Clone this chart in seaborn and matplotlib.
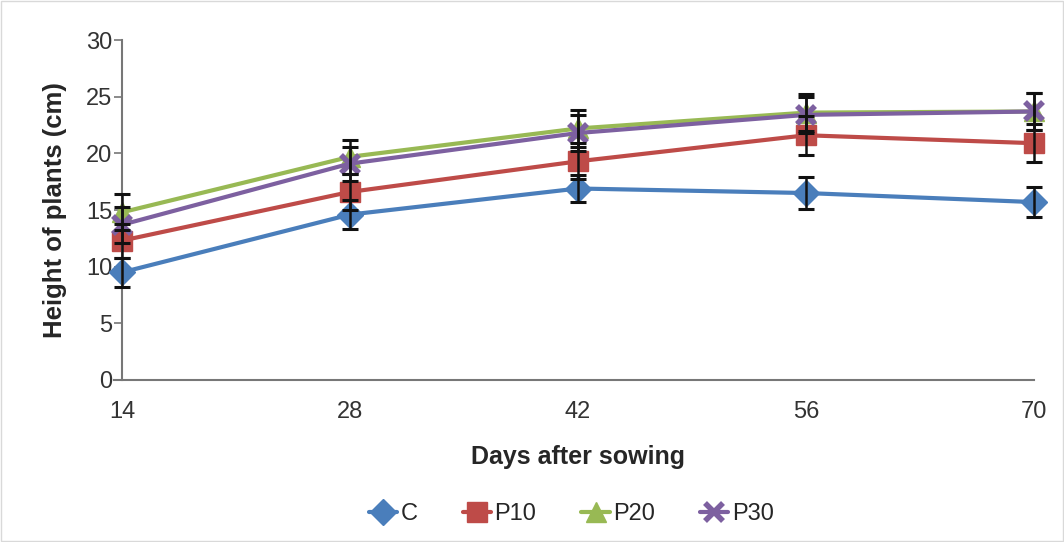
import numpy as np
import pandas as pd
import matplotlib
matplotlib.use("Agg")
import matplotlib.pyplot as plt
import seaborn as sns
from matplotlib.patches import Rectangle

# ── Data ───────────────────────────────────────────────────────────────────────
days = [14, 28, 42, 56, 70]
treatments = ["C", "P10", "P20", "P30"]

height_c   = [9.5, 14.6, 16.9, 16.5, 15.7]
height_p10 = [12.3, 16.6, 19.3, 21.6, 20.9]
height_p20 = [14.8, 19.7, 22.2, 23.6, 23.7]
height_p30 = [13.7, 19.1, 21.8, 23.4, 23.7]

err_c   = [1.3, 1.3, 1.2, 1.4, 1.3]
err_p10 = [1.5, 1.6, 1.6, 1.7, 1.7]
err_p20 = [1.6, 1.5, 1.6, 1.6, 1.6]
err_p30 = [1.6, 1.5, 1.6, 1.6, 1.6]

colors  = ["#4A7EBB", "#BE4B48", "#98B954", "#7D60A0"]
markers = ["D", "s", "^", "x"]
msizes  = [13, 14, 14, 13]

# ── Plot ───────────────────────────────────────────────────────────────────────
sns.set_style("white")
plt.rcParams["font.family"] = ["Liberation Sans", "DejaVu Sans"]

heights = [height_c, height_p10, height_p20, height_p30]
errs    = [err_c, err_p10, err_p20, err_p30]

df = pd.DataFrame({
    "day":    np.tile(days, len(treatments)),
    "height": np.concatenate(heights),
    "err":    np.concatenate(errs),
    "group":  np.repeat(treatments, len(days)),
})

fig = plt.figure(figsize=(10.64, 5.42), dpi=100)
ax = fig.add_axes([0.1147, 0.299, 0.8571, 0.627])

for grp, c, m, ms in zip(treatments, colors, markers, msizes):
    sub = df[df["group"] == grp]
    sns.lineplot(
        data=sub, x="day", y="height", color=c, marker=m, linewidth=3,
        markersize=ms, markeredgecolor=c,
        markeredgewidth=4 if m == "x" else 1, ax=ax, legend=False,
        clip_on=False,
    )

for grp in treatments:
    sub = df[df["group"] == grp]
    ax.errorbar(sub["day"], sub["height"], yerr=sub["err"], fmt="none",
                ecolor="#111111", elinewidth=1.8, capsize=5.5, capthick=2.2,
                zorder=5, clip_on=False)

ax.set_xlim(14, 70)
ax.set_ylim(0, 30)
ax.set_xticks(days)
ax.set_yticks(range(0, 31, 5))
ax.tick_params(axis="x", length=0, pad=15, labelsize=17, colors="#333333")
ax.tick_params(axis="y", length=6, width=1.2, color="#777777", direction="out",
               left=True, pad=1, labelsize=17, labelcolor="#333333")
for side in ["top", "right"]:
    ax.spines[side].set_visible(False)
for side in ["left", "bottom"]:
    ax.spines[side].set_color("#777777")
    ax.spines[side].set_linewidth(1.5)
ax.spines["bottom"].set_bounds(14 - 0.5, 70)

ax.set_xlabel("Days after sowing", fontsize=18, fontweight="bold", labelpad=16)
ax.set_ylabel("Height of plants (cm)", fontsize=18.5, fontweight="bold", labelpad=14)

# legend along the bottom
handles = [
    plt.Line2D([], [], color=c, marker=m, linewidth=3, markersize=ms,
               markeredgewidth=4 if m == "x" else 1, markeredgecolor=c)
    for c, m, ms in zip(colors, markers, msizes)
]
fig.legend(handles, treatments, loc="center", bbox_to_anchor=(0.537, 0.052),
           ncol=4, frameon=False, fontsize=17, handlelength=1.2,
           handletextpad=0.15, columnspacing=1.9)

fig.patches.append(Rectangle((0.001, 0.002), 0.998, 0.996, transform=fig.transFigure,
                             fill=False, edgecolor="#D9D9D9", linewidth=1))

fig.savefig("out.png", dpi=100)
